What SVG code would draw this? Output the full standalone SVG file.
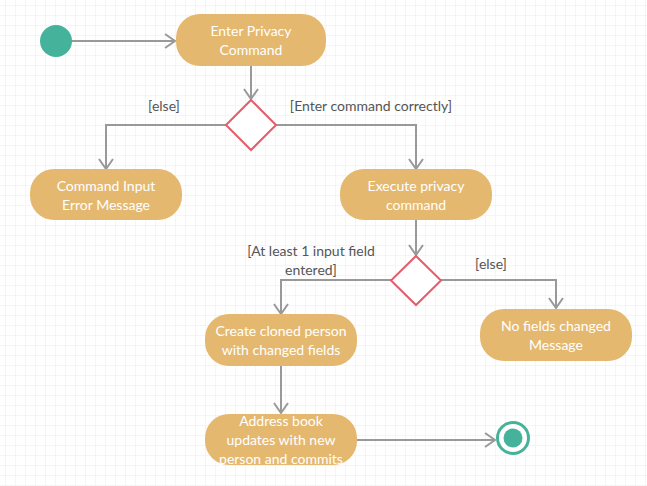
<svg xmlns="http://www.w3.org/2000/svg" width="647" height="486" viewBox="0 0 647 486">
<defs>
<pattern id="grid" x="5" y="5" width="10" height="10" patternUnits="userSpaceOnUse">
<path d="M0 0H10M0 0V10" fill="none" stroke="#ebebeb" stroke-width="1"/>
</pattern>
<marker id="arr" viewBox="0 0 12 16" refX="11" refY="8" markerWidth="12" markerHeight="16" markerUnits="userSpaceOnUse" orient="auto">
<polyline points="1,1 11,8 1,15" fill="none" stroke="#999" stroke-width="2"/>
</marker>
<style>
.node{fill:#e5b86f;}
.nt{font-family:Lato,"Open Sans",sans-serif;font-size:14px;fill:#fff;text-anchor:middle;}
.lbl{font-family:Lato,"Open Sans",sans-serif;font-size:14px;fill:#555;text-anchor:middle;}
.c{fill:none;stroke:#999;stroke-width:2;}
.dia{fill:#fff;stroke:#e35d6a;stroke-width:2;}
</style>
</defs>
<rect width="647" height="486" fill="#fff"/>
<rect width="647" height="486" fill="url(#grid)"/>
<g id="connectors">
<path class="c" d="M72 41H175" marker-end="url(#arr)"/>
<path class="c" d="M251 66V99" marker-end="url(#arr)"/>
<path class="c" d="M226 125H106V169" marker-end="url(#arr)"/>
<path class="c" d="M276 125H416V169" marker-end="url(#arr)"/>
<path class="c" d="M416 220V255" marker-end="url(#arr)"/>
<path class="c" d="M392 280H281V314" marker-end="url(#arr)"/>
<path class="c" d="M441 280H556V308" marker-end="url(#arr)"/>
<path class="c" d="M281 366V413" marker-end="url(#arr)"/>
<path class="c" d="M357 440H495" marker-end="url(#arr)"/>
<text class="lbl" x="164" y="111">[else]</text>
<text class="lbl" x="371" y="111">[Enter command correctly]</text>
<text class="lbl" x="311" y="256">[At least 1 input field</text>
<text class="lbl" x="311" y="275">entered]</text>
<text class="lbl" x="491" y="269">[else]</text>
</g>
<g id="start"><circle cx="56" cy="41" r="16" fill="#45b39b"/></g>
<g id="enterPrivacy">
<rect class="node" x="176" y="14" width="150" height="52" rx="24"/>
<text class="nt" x="251" y="36">Enter Privacy</text>
<text class="nt" x="251" y="55">Command</text>
</g>
<g id="decision1"><polygon class="dia" points="251,100 276,125 251,150 226,125"/></g>
<g id="errorMsg">
<rect class="node" x="30" y="169" width="152" height="51" rx="24"/>
<text class="nt" x="106" y="191">Command Input</text>
<text class="nt" x="106" y="210">Error Message</text>
</g>
<g id="execute">
<rect class="node" x="340" y="169" width="152" height="51" rx="24"/>
<text class="nt" x="416" y="191">Execute privacy</text>
<text class="nt" x="416" y="210">command</text>
</g>
<g id="decision2"><polygon class="dia" points="416,256 441,280.5 416,305 391,280.5"/></g>
<g id="createCloned">
<rect class="node" x="205" y="314" width="152" height="52" rx="24"/>
<text class="nt" x="281" y="336">Create cloned person</text>
<text class="nt" x="281" y="355">with changed fields</text>
</g>
<g id="noFields">
<rect class="node" x="480" y="309" width="152" height="52" rx="24"/>
<text class="nt" x="556" y="331">No fields changed</text>
<text class="nt" x="556" y="350">Message</text>
</g>
<g id="addressBook">
<rect class="node" x="205" y="414" width="152" height="51" rx="24"/>
<text class="nt" x="281" y="426">Address book</text>
<text class="nt" x="281" y="445">updates with new</text>
<text class="nt" x="281" y="464">person and commits</text>
</g>
<g id="end">
<circle cx="513" cy="438" r="15.5" fill="#fff" stroke="#45b39b" stroke-width="3"/>
<circle cx="513" cy="438" r="9.5" fill="#45b39b"/>
</g>
</svg>
